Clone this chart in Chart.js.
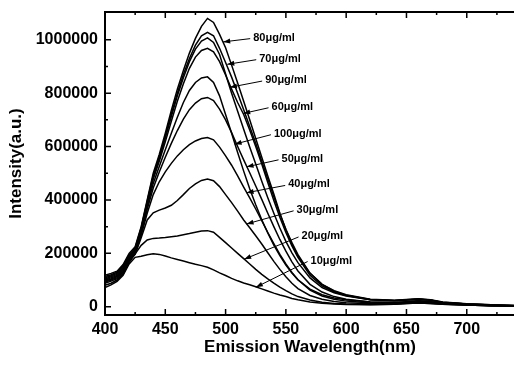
<!DOCTYPE html>
<html lang="en">
<head>
<meta charset="UTF-8">
<title>Emission spectra</title>
<script src="https://cdn.jsdelivr.net/npm/chart.js@4.4.1/dist/chart.umd.min.js"></script>
<style>
    html, body { margin: 0; padding: 0; background: #fff; overflow: hidden; }
    #wrap { width: 516px; height: 365px; position: relative; }
</style>
</head>
<body>
<div id="wrap"><canvas id="chart"></canvas></div>
<script>
    // wavelength grid (nm)
    const wavelengths = [400,405,410,415,420,425,430,435,440,445,450,455,460,465,470,475,480,485,490,495,
        500,505,510,515,520,525,530,535,540,545,550,555,560,570,580,590,600,620,640,650,660,670,680,700,720,740];

    // intensities, in thousands (a.u.)
    const c10  = [72,82,95,118,160,185,189,195,198,196,190,183,177,171,165,159,154,148,138,127,
        117,106,97,89,82,75,67,59,51,44,38,31,26,18,13,10,8,7,9,12,14,12,9,6,4,3];
    const c20  = [80,88,100,122,165,198,230,250,256,257,259,262,265,270,274,279,284,285,279,260,
        240,220,200,180,160,140,121,104,88,73,60,48,38,25,17,12,10,8,9,12,14,12,9,6,4,3];
    const c30  = [88,96,105,128,172,196,258,325,352,362,370,380,398,420,443,460,473,478,472,450,
        420,390,358,325,296,266,235,202,170,140,112,88,68,42,28,20,15,11,11,14,16,14,10,6,4,3];
    const c40  = [92,100,109,132,176,200,268,350,420,468,505,537,565,588,607,621,630,634,625,598,
        565,530,490,448,408,366,322,278,236,196,160,128,101,62,40,28,21,14,13,16,19,16,11,7,5,3];
    const c50  = [96,104,113,136,180,204,276,365,445,505,560,612,660,703,738,763,779,784,772,740,
        700,652,600,550,502,452,402,350,300,252,208,168,134,84,55,38,28,18,16,19,22,19,13,8,5,4];
    const c100 = [100,108,117,140,183,208,282,375,462,525,588,650,710,765,810,840,857,861,840,790,
        720,650,578,508,442,382,326,276,231,191,156,126,101,66,45,33,26,18,16,19,22,19,13,8,5,4];
    const c60  = [104,112,121,144,187,212,288,385,478,545,618,695,770,835,893,935,960,968,955,918,
        868,815,765,720,662,600,535,465,398,335,278,228,185,118,78,55,42,26,22,25,28,24,16,10,6,4];
    const c90  = [108,116,125,148,190,215,292,390,485,555,632,712,790,858,918,965,995,1007,990,945,
        872,800,732,665,598,535,470,408,350,295,245,202,165,108,72,52,40,26,22,25,28,24,16,10,6,4];
    const c70  = [113,120,129,153,195,220,296,395,492,562,640,722,800,870,930,980,1015,1028,1015,968,
        915,860,800,738,675,612,545,478,412,348,290,240,195,126,84,58,43,27,23,26,29,25,17,10,7,5];
    const c80  = [118,125,133,158,200,225,300,400,500,570,650,735,815,885,950,1005,1050,1080,1065,1020,
        970,905,838,770,700,630,560,490,422,350,288,235,190,125,84,60,45,28,24,27,30,26,18,11,7,5];

    const series = [c10, c20, c30, c40, c50, c100, c60, c90, c70, c80];

    // curve labels: text anchor and arrow tip, in data units (nm, intensity)
    const labelTexts = ["80\u03bcg/ml","70\u03bcg/ml","90\u03bcg/ml","60\u03bcg/ml","100\u03bcg/ml",
        "50\u03bcg/ml","40\u03bcg/ml","30\u03bcg/ml","20\u03bcg/ml","10\u03bcg/ml"];
    const labelX = [522.9,527.9,532.8,538.1,540.1,546.4,551.9,558.9,563.0,570.5];
    const labelY = [1008000,929000,849000,749000,648000,554000,458000,363000,265000,173000];
    const tipX   = [498.0,501.4,503.6,514.6,507.5,517.4,517.4,517.4,515.4,525.1];
    const tipY   = [992000,908000,822000,724000,609000,524000,427000,310000,178000,73000];

    const xTicks = [400,450,500,550,600,650,700];
    const xMinor = [425,475,525,575,625,675,725];
    const yTicks = [0,200000,400000,600000,800000,1000000];
    const yMinor = [100000,300000,500000,700000,900000];

    const FONT = 'Arial, "Liberation Sans", sans-serif';

    const datasets = series.map(vals => ({
        data: wavelengths.map((w, i) => ({x: w, y: vals[i] * 1000})),
        borderColor: '#000',
        borderWidth: 1.5,
        pointRadius: 0,
        tension: 0,
        fill: false
    }));

    // frame, inward ticks and arrow labels
    const framePlugin = {
        id: 'framePlugin',
        afterDatasetsDraw(chart) {
            const {ctx, chartArea: {left, right, top, bottom}, scales: {x, y}} = chart;
            ctx.save();
            ctx.strokeStyle = '#000';
            ctx.fillStyle = '#000';
            ctx.lineWidth = 2;
            ctx.strokeRect(left, top, right - left, bottom - top);

            ctx.lineWidth = 1.5;
            ctx.beginPath();
            for (const v of xTicks) {
                const px = x.getPixelForValue(v);
                ctx.moveTo(px, bottom); ctx.lineTo(px, bottom - 6);
                ctx.moveTo(px, top); ctx.lineTo(px, top + 6);
            }
            for (const v of xMinor) {
                const px = x.getPixelForValue(v);
                ctx.moveTo(px, bottom); ctx.lineTo(px, bottom - 3);
                ctx.moveTo(px, top); ctx.lineTo(px, top + 3);
            }
            for (const v of yTicks) {
                const py = y.getPixelForValue(v);
                ctx.moveTo(left, py); ctx.lineTo(left + 6, py);
            }
            for (const v of yMinor) {
                const py = y.getPixelForValue(v);
                ctx.moveTo(left, py); ctx.lineTo(left + 3, py);
            }
            ctx.stroke();

            ctx.font = 'bold 11px ' + FONT;
            ctx.textBaseline = 'middle';
            ctx.textAlign = 'left';
            ctx.lineWidth = 1;
            for (let i = 0; i < labelTexts.length; i++) {
                const tx = x.getPixelForValue(labelX[i]);
                const ty = y.getPixelForValue(labelY[i]);
                const ax = x.getPixelForValue(tipX[i]);
                const ay = y.getPixelForValue(tipY[i]);
                ctx.fillText(labelTexts[i], tx, ty);
                const sx = tx - 3, sy = ty + 1;
                ctx.beginPath();
                ctx.moveTo(sx, sy); ctx.lineTo(ax, ay);
                ctx.stroke();
                const ang = Math.atan2(ay - sy, ax - sx);
                ctx.beginPath();
                ctx.moveTo(ax, ay);
                ctx.lineTo(ax - 7 * Math.cos(ang) + 2.5 * Math.sin(ang), ay - 7 * Math.sin(ang) - 2.5 * Math.cos(ang));
                ctx.lineTo(ax - 7 * Math.cos(ang) - 2.5 * Math.sin(ang), ay - 7 * Math.sin(ang) + 2.5 * Math.cos(ang));
                ctx.closePath();
                ctx.fill();
            }
            ctx.restore();
        }
    };

    new Chart(document.getElementById('chart'), {
        type: 'line',
        data: {datasets},
        plugins: [framePlugin],
        options: {
            responsive: true,
            maintainAspectRatio: false,
            animation: false,
            layout: {padding: {top: 12, right: 1, left: 0, bottom: 0}},
            plugins: {legend: {display: false}, tooltip: {enabled: false}},
            scales: {
                x: {
                    type: 'linear',
                    min: 400,
                    max: 740,
                    grid: {display: false, drawTicks: false},
                    border: {display: false},
                    afterBuildTicks: s => { s.ticks = xTicks.map(v => ({value: v})); },
                    afterFit: s => { s.height = 50; s.paddingLeft = 0; s.paddingRight = 0; },
                    ticks: {color: '#000', padding: 5, maxRotation: 0, font: {family: FONT, size: 16, weight: 'bold'}},
                    title: {display: true, text: 'Emission Wavelength(nm)', color: '#000',
                        padding: {top: 0, bottom: 7}, font: {family: FONT, size: 17, weight: 'bold'}}
                },
                y: {
                    type: 'linear',
                    min: -31000,
                    max: 1104000,
                    grid: {display: false, drawTicks: false},
                    border: {display: false},
                    afterBuildTicks: s => { s.ticks = yTicks.map(v => ({value: v})); },
                    afterFit: s => { s.width = 105; s.paddingTop = 0; s.paddingBottom = 0; },
                    ticks: {color: '#000', padding: 7, font: {family: FONT, size: 16, weight: 'bold'},
                        callback: v => String(v)},
                    title: {display: true, text: 'Intensity(a.u.)', color: '#000',
                        padding: {top: 6, bottom: 0}, font: {family: FONT, size: 17, weight: 'bold'}}
                }
            }
        }
    });
</script>
</body>
</html>
